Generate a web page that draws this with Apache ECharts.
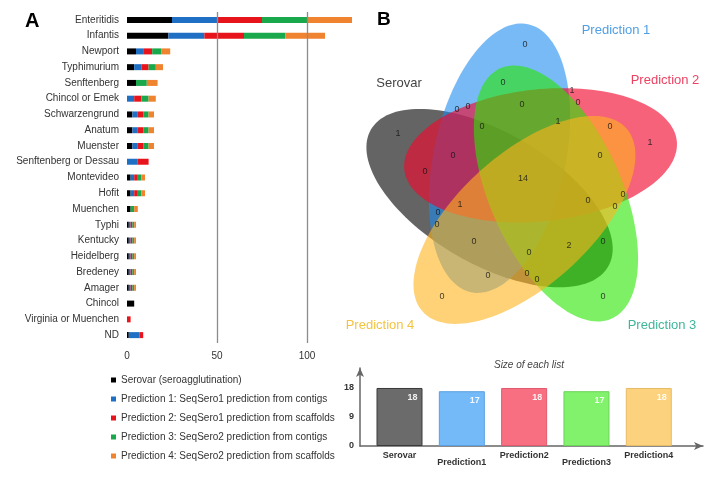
<!DOCTYPE html>
<html><head><meta charset="utf-8">
<script src="https://cdn.jsdelivr.net/npm/echarts@6/dist/echarts.min.js"></script>
<style>html,body{margin:0;padding:0;background:#fff}#c{width:721px;height:477px}</style>
</head><body><div id="c"></div>
<script>
// ---------- Panel A data ----------
const serovars = ['Enteritidis','Infantis','Newport','Typhimurium','Senftenberg','Chincol or Emek','Schwarzengrund','Anatum','Muenster','Senftenberg or Dessau','Montevideo','Hofit','Muenchen','Typhi','Kentucky','Heidelberg','Bredeney','Amager','Chincol','Virginia or Muenchen','ND'];
const serovarCounts = [25,23,5,4,5,0,3,3,3,0,2,2,2,1,1,1,1,1,4,0,1];
const pred1Counts   = [25,20,4,4,0,4,3,3,3,6,2,2,0,1,1,1,1,1,0,0,6];
const pred2Counts   = [25,22,5,4,0,4,3,3,3,6,2,2,0,1,1,1,1,1,0,2,2];
const pred3Counts   = [25,23,5,4,6,4,3,3,3,0,2,2,2,1,1,1,1,1,0,0,0];
const pred4Counts   = [25,22,5,4,6,4,3,3,3,0,2,2,2,1,1,1,1,1,0,0,0];
const seriesNames = ['Serovar (seroagglutination)','Prediction 1: SeqSero1 prediction from contigs','Prediction 2: SeqSero1 prediction from scaffolds','Prediction 3: SeqSero2 prediction from contigs','Prediction 4: SeqSero2 prediction from scaffolds'];
const xTicks = [0,50,100];

// ---------- Panel B data ----------
const vennSets = ['Serovar','Prediction 1','Prediction 2','Prediction 3','Prediction 4'];
const vennRegionCounts = [0,0,1,0,0,0,0,1,0,1,0,1,0,0,0,14,0,0,0,1,0,0,0,2,0,0,0,0,0,0,0];
const listNames = ['Serovar','Prediction1','Prediction2','Prediction3','Prediction4'];
const listSizes = [18,17,18,17,18];
const listTicks = [0,9,18];

// ---------- layout / style (not data) ----------
const vennRegionPos = [[525,45],[503,83],[572,91],[457,110],[468,107],[522,105],[578,103],[398,134],[482,127],[558,122],[610,127],[650,143],[453,156],[600,156],[425,172],[523,179],[588,201],[623,195],[615,207],[460,205],[438,213],[437,225],[474,242],[569,246],[603,242],[529,253],[488,276],[527,274],[537,280],[442,297],[603,297]];
const vennCenter = [522,185];
const vennOffset = 35, vennA = 137, vennB = 66;
const vennOffsetAngle0 = -130, vennAxisAngle0 = -78;
const vennRot = [4,0,1,2,3];
const vennFills = ['rgba(40,40,40,0.72)','rgba(30,140,240,0.6)','rgba(240,10,45,0.64)','rgba(40,230,0,0.6)','rgba(255,180,30,0.6)'];
const barColors = ['#000000','#1f6fc4','#e8141c','#19a84b','#f0832f'];
const listColors = ['#6b6b6b','#74b9f8','#f96f82','#82f26c','#fdd27e'];
const listBorders = ['#3a3a3a','#5aa0e0','#e05a6e','#6ad456','#e8bc68'];
const FONT = '"Liberation Sans", Arial, sans-serif';

const barData = [serovarCounts,pred1Counts,pred2Counts,pred3Counts,pred4Counts];

const chart = echarts.init(document.getElementById('c'));
const series = barData.map((d,i)=>({
  name: seriesNames[i], type:'bar', stack:'total', xAxisIndex:0, yAxisIndex:0,
  barWidth:6, data:d, itemStyle:{color:barColors[i]}, silent:true,
  markLine: i===0 ? {silent:true, symbol:['none','none'], label:{show:false},
    lineStyle:{color:'#8c8c8c', width:1.3, type:'solid'},
    data: xTicks.filter(v=>v>0).map(v=>({xAxis:v}))} : undefined
}));

series.push({
  type:'custom', name:'venn', xAxisIndex:1, yAxisIndex:1, silent:true, z:1,
  data: vennSets.map(n=>({name:n, value:vennCenter.slice()})),
  renderItem: function(params, api){
    const i = params.dataIndex, k = vennRot[i];
    const phi = (vennOffsetAngle0 + 72*k)*Math.PI/180, psi = (vennAxisAngle0 + 72*k)*Math.PI/180;
    const cx = vennCenter[0] + vennOffset*Math.cos(phi), cy = vennCenter[1] + vennOffset*Math.sin(phi);
    const pts = [];
    for (let t=0;t<144;t++){
      const th = t/144*2*Math.PI, ex = vennA*Math.cos(th), ey = vennB*Math.sin(th);
      pts.push(api.coord([cx + ex*Math.cos(psi) - ey*Math.sin(psi), cy + ex*Math.sin(psi) + ey*Math.cos(psi)]));
    }
    return {type:'polygon', shape:{points:pts}, style:{fill:vennFills[i]}};
  }
});

series.push({
  type:'scatter', name:'regions', xAxisIndex:1, yAxisIndex:1, silent:true, symbolSize:0, z:5,
  itemStyle:{color:'rgba(0,0,0,0)'},
  data: vennRegionPos.map((p,i)=>[p[0],p[1],vennRegionCounts[i]]),
  label:{show:true, position:'inside', formatter:p=>String(p.value[2]), fontSize:9, color:'#111', fontFamily:FONT}
});

series.push({
  type:'bar', name:'List size', xAxisIndex:2, yAxisIndex:2, barWidth:46, silent:true,
  data: listSizes.map((v,i)=>({value:[i,v], itemStyle:{color:listColors[i], borderColor:listBorders[i], borderWidth:1}})),
  label:{show:true, position:'insideTopRight', distance:5, formatter:p=>String(p.value[1]), color:'rgba(255,255,255,0.9)', fontSize:9, fontWeight:'bold'}
});

const option = {
  animation:false,
  textStyle:{fontFamily:FONT},
  grid:[
    {left:127, top:12, width:225, height:331},
    {left:340, top:0, width:380, height:340},
    {left:360, top:368, width:343, height:78}
  ],
  xAxis:[
    {gridIndex:0, type:'value', min:0, max:125, interval:50,
      axisLine:{show:false}, axisTick:{show:false}, splitLine:{show:false},
      axisLabel:{customValues:xTicks, fontSize:10, color:'#333', margin:8}},
    {gridIndex:1, type:'value', min:340, max:720, show:false},
    {gridIndex:2, type:'value', min:-0.634, max:4.87,
      axisLine:{show:true, symbol:['none','arrow'], symbolSize:[6,9], lineStyle:{color:'#666', width:1.5}},
      axisTick:{show:false}, splitLine:{show:false},
      axisLabel:{customValues:[0,1,2,3,4], fontSize:9, color:'#333', margin:5,
        formatter:v=>{const i=Math.round(v); return i%2 ? '{b|'+listNames[i]+'}' : '{a|'+listNames[i]+'}';},
        rich:{a:{fontSize:9, color:'#333', fontWeight:'bold'}, b:{fontSize:9, color:'#333', fontWeight:'bold', padding:[7,0,0,0]}}}}
  ],
  yAxis:[
    {gridIndex:0, type:'category', data:serovars, inverse:true,
      axisLine:{show:false}, axisTick:{show:false},
      axisLabel:{fontSize:10, color:'#333', margin:8}},
    {gridIndex:1, type:'value', min:0, max:340, inverse:true, show:false},
    {gridIndex:2, type:'value', min:0, max:24.2,
      axisLine:{show:true, onZero:false, symbol:['none','arrow'], symbolSize:[6,9], lineStyle:{color:'#666', width:1.5}},
      axisTick:{show:false}, splitLine:{show:false},
      axisLabel:{customValues:listTicks, fontSize:9, color:'#333', margin:6, fontWeight:'bold'}}
  ],
  legend:{data:seriesNames, orient:'vertical', left:111, top:374, padding:0, itemWidth:5, itemHeight:5, itemGap:7,
    icon:'rect', selectedMode:false, textStyle:{fontSize:10, color:'#333', lineHeight:12}},
  graphic:[
    {type:'text', left:25, top:11, style:{text:'A', fontSize:20, fontWeight:'bold', fill:'#000', fontFamily:FONT}},
    {type:'text', left:377, top:10, style:{text:'B', fontSize:19, fontWeight:'bold', fill:'#000', fontFamily:FONT}},
    {type:'text', x:616, y:30, style:{text:'Prediction 1', fontSize:13, fill:'#4f9fe4', align:'center', verticalAlign:'middle', fontFamily:FONT}},
    {type:'text', x:665, y:80, style:{text:'Prediction 2', fontSize:13, fill:'#ec4262', align:'center', verticalAlign:'middle', fontFamily:FONT}},
    {type:'text', x:399, y:83, style:{text:'Serovar', fontSize:13, fill:'#444', align:'center', verticalAlign:'middle', fontFamily:FONT}},
    {type:'text', x:380, y:325, style:{text:'Prediction 4', fontSize:13, fill:'#f4c440', align:'center', verticalAlign:'middle', fontFamily:FONT}},
    {type:'text', x:662, y:325, style:{text:'Prediction 3', fontSize:13, fill:'#3fb59c', align:'center', verticalAlign:'middle', fontFamily:FONT}},
    {type:'text', x:529, y:365, style:{text:'Size of each list', fontSize:10, fontStyle:'italic', fill:'#444', align:'center', verticalAlign:'middle', fontFamily:FONT}}
  ],
  series: series
};
chart.setOption(option);
</script>
</body></html>
